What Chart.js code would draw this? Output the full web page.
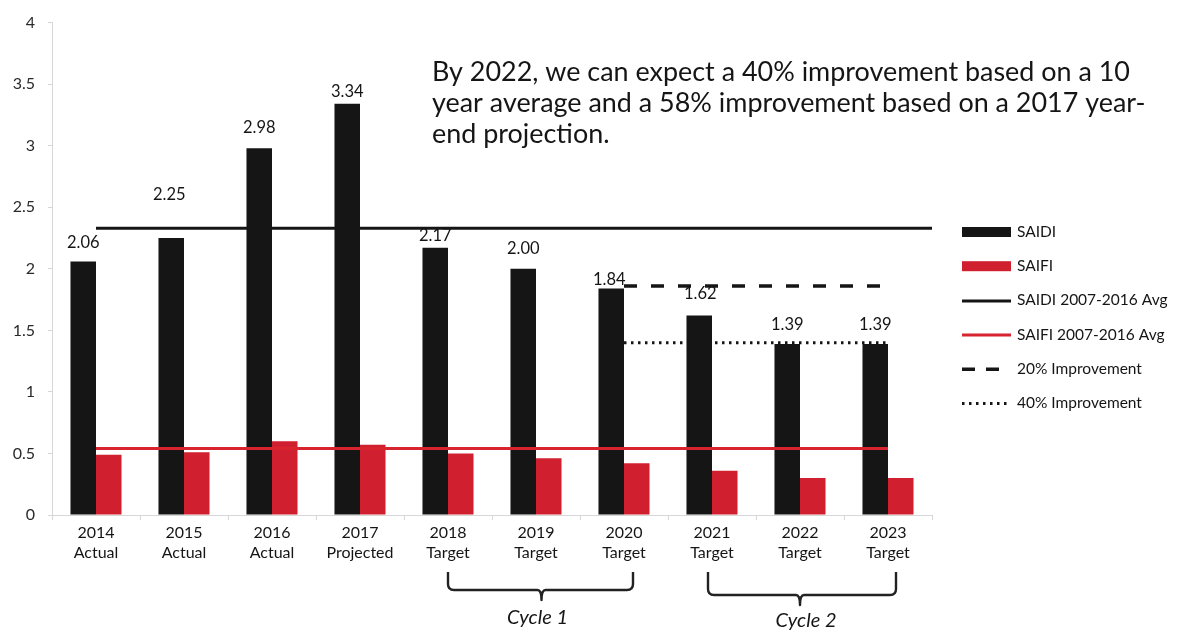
<!DOCTYPE html>
<html>
<head>
<meta charset="utf-8">
<script src="https://cdn.jsdelivr.net/npm/chart.js@4.4.1/dist/chart.umd.min.js"></script>
<style>
  html, body { margin: 0; padding: 0; background: #ffffff; }
  #wrap { width: 1188px; height: 634px; position: relative; }
</style>
</head>
<body>
<div id="wrap"><canvas id="chart" width="1188" height="634"></canvas></div>
<script>
// ---- data ----
const categories = [
  ['2014', 'Actual'], ['2015', 'Actual'], ['2016', 'Actual'], ['2017', 'Projected'],
  ['2018', 'Target'], ['2019', 'Target'], ['2020', 'Target'],
  ['2021', 'Target'], ['2022', 'Target'], ['2023', 'Target']
];
const saidi = [2.06, 2.25, 2.98, 3.34, 2.17, 2.00, 1.84, 1.62, 1.39, 1.39];
const saifi = [0.49, 0.51, 0.60, 0.57, 0.50, 0.46, 0.42, 0.36, 0.30, 0.30];
const saidiAvg = 2.33;       // SAIDI 2007-2016 average
const saifiAvg = 0.54;       // SAIFI 2007-2016 average
const improvement20 = 1.86;  // 20% below the SAIDI average
const improvement40 = 1.40;  // 40% below the SAIDI average
const improvementFrom = 6;   // improvement targets start at 2020
const yMin = 0, yMax = 4, yStep = 0.5;
const cycles = [
  { label: 'Cycle 1', from: 4, to: 6 },
  { label: 'Cycle 2', from: 7, to: 9 }
];
const noteLines = [
  'By 2022, we can expect a 40% improvement based on a 10',
  'year average and a 58% improvement based on a 2017 year-',
  'end projection.'
];

// ---- derived series ----
const saidiAvgLine = categories.map(() => saidiAvg);
const saifiAvgLine = categories.map(() => saifiAvg);
const imp20Line = categories.map((_, i) => (i >= improvementFrom ? improvement20 : null));
const imp40Line = categories.map((_, i) => (i >= improvementFrom ? improvement40 : null));

const FONT = 'Lato, "Open Sans", sans-serif';
const INK = '#151515';
const BLACK = '#151515';
const RED = '#d01f2e';
const RED_LINE = '#d8242f';
const AXIS = '#d6d6d6';

// value labels above the SAIDI bars (vertical gap above each bar top, px)
const valueLabelPlugin = {
  id: 'valueLabels',
  afterDatasetsDraw(chart, args, opts) {
    const meta = chart.getDatasetMeta(0);
    const ctx = chart.ctx;
    ctx.save();
    ctx.font = '16.5px ' + FONT;
    ctx.fillStyle = INK;
    ctx.textAlign = 'center';
    ctx.textBaseline = 'middle';
    meta.data.forEach((bar, i) => {
      const v = chart.data.datasets[0].data[i];
      ctx.fillText(v.toFixed(2), bar.x + opts.shift[i], bar.y - opts.gaps[i]);
    });
    ctx.restore();
  }
};

// carries the SAIDI average line on to the right edge of the plot
const extendLinePlugin = {
  id: 'extendLine',
  afterDatasetsDraw(chart) {
    const meta = chart.getDatasetMeta(2);
    const ds = chart.data.datasets[2];
    const last = meta.data[meta.data.length - 1];
    const ctx = chart.ctx;
    ctx.save();
    ctx.strokeStyle = ds.borderColor;
    ctx.lineWidth = ds.borderWidth;
    ctx.beginPath();
    ctx.moveTo(last.x, last.y);
    ctx.lineTo(chart.chartArea.right, last.y);
    ctx.stroke();
    ctx.restore();
  }
};

// legend drawn to the right of the plot
const sideLegendPlugin = {
  id: 'sideLegend',
  afterDraw(chart, args, opts) {
    const ctx = chart.ctx;
    const x0 = chart.chartArea.right + opts.offsetX;
    ctx.save();
    ctx.font = '15.5px ' + FONT;
    ctx.textBaseline = 'middle';
    ctx.textAlign = 'left';
    chart.data.datasets.forEach((ds, i) => {
      const y = opts.top + i * opts.spacing;
      if (ds.type === 'bar') {
        ctx.fillStyle = ds.backgroundColor;
        ctx.fillRect(x0, y - 5, opts.swatch, 10);
      } else {
        ctx.strokeStyle = ds.borderColor;
        ctx.lineWidth = ds.borderWidth;
        ctx.setLineDash(ds.legendDash || []);
        ctx.beginPath();
        ctx.moveTo(x0, y + 0.5);
        ctx.lineTo(x0 + (ds.legendLength || opts.swatch), y + 0.5);
        ctx.stroke();
        ctx.setLineDash([]);
      }
      ctx.fillStyle = INK;
      ctx.fillText(ds.label, x0 + opts.swatch + 6, y);
    });
    ctx.restore();
  }
};

// brackets and cycle names under the category labels
const cyclePlugin = {
  id: 'cycles',
  afterDraw(chart, args, opts) {
    const ctx = chart.ctx;
    const xs = chart.scales.x;
    ctx.save();
    ctx.strokeStyle = '#222';
    ctx.lineWidth = 2.4;
    ctx.lineJoin = 'round';
    opts.items.forEach((c, k) => {
      const s = opts.shapes[k];
      const xl = xs.getPixelForValue(c.from) + s.dl;
      const xr = xs.getPixelForValue(c.to) + s.dr;
      const xm = (xl + xr) / 2 + s.dm;
      const top = s.top, hy = s.hy, dip = s.dip, r = 6;
      ctx.beginPath();
      ctx.moveTo(xl, top);
      ctx.lineTo(xl, hy - r);
      ctx.quadraticCurveTo(xl, hy, xl + r, hy);
      ctx.lineTo(xm - 4, hy);
      ctx.quadraticCurveTo(xm, hy, xm, hy + dip);
      ctx.quadraticCurveTo(xm, hy, xm + 4, hy);
      ctx.lineTo(xr - r, hy);
      ctx.quadraticCurveTo(xr, hy, xr, hy - r);
      ctx.lineTo(xr, top);
      ctx.stroke();
      ctx.fillStyle = INK;
      ctx.font = 'italic 20px ' + FONT;
      ctx.textAlign = 'center';
      ctx.textBaseline = 'middle';
      ctx.fillText(c.label, xm + s.tx, s.ty);
    });
    ctx.restore();
  }
};

// note text in the upper right of the plot
const notePlugin = {
  id: 'note',
  afterDraw(chart, args, opts) {
    const ctx = chart.ctx;
    ctx.save();
    let size = 24;
    ctx.font = size + 'px ' + FONT;
    const w = ctx.measureText(noteLines[0]).width;
    size = size * opts.width / w;
    ctx.font = size.toFixed(2) + 'px ' + FONT;
    ctx.fillStyle = INK;
    ctx.textAlign = 'left';
    ctx.textBaseline = 'middle';
    noteLines.forEach((t, i) => ctx.fillText(t, opts.x, opts.y + i * opts.lineGap));
    ctx.restore();
  }
};

new Chart(document.getElementById('chart'), {
  data: {
    labels: categories,
    datasets: [
      { type: 'bar', label: 'SAIDI', data: saidi, backgroundColor: BLACK, order: 2,
        categoryPercentage: 0.58, barPercentage: 1.0 },
      { type: 'bar', label: 'SAIFI', data: saifi, backgroundColor: RED, order: 2,
        categoryPercentage: 0.58, barPercentage: 1.0 },
      { type: 'line', label: 'SAIDI 2007-2016 Avg', data: saidiAvgLine, borderColor: BLACK,
        borderWidth: 3, pointRadius: 0, fill: false, order: 1 },
      { type: 'line', label: 'SAIFI 2007-2016 Avg', data: saifiAvgLine, borderColor: RED_LINE,
        borderWidth: 3, pointRadius: 0, fill: false, order: 1 },
      { type: 'line', label: '20% Improvement', data: imp20Line, borderColor: BLACK,
        borderWidth: 3.5, borderDash: [13, 14], legendDash: [13, 11], legendLength: 38,
        pointRadius: 0, fill: false, order: 1 },
      { type: 'line', label: '40% Improvement', data: imp40Line, borderColor: BLACK,
        borderWidth: 3, borderDash: [2.5, 4.5], legendDash: [2.5, 4.5],
        pointRadius: 0, fill: false, order: 1 }
    ]
  },
  options: {
    responsive: false,
    animation: false,
    layout: { padding: { left: 0, right: 256, top: 17, bottom: 0 } },
    plugins: {
      legend: { display: false },
      tooltip: { enabled: false },
      valueLabels: {
        gaps: [19, 43, 20, 12, 12, 20, 9, 22, 19, 19],
        shift: [0, -2, 0, 0, 0, 0, -2, 1, 0, 0]
      },
      sideLegend: { offsetX: 30, top: 232, spacing: 34.2, swatch: 49 },
      cycles: {
        items: cycles,
        shapes: [
          { dl: 0, dr: 9, dm: 1, top: 572, hy: 590, dip: 10, tx: -4, ty: 618 },
          { dl: -4, dr: 8, dm: -2, top: 572, hy: 595, dip: 10, tx: 6, ty: 621 }
        ]
      },
      note: { x: 432, y: 72, lineGap: 31, width: 698 }
    },
    scales: {
      x: {
        offset: true,
        grid: { display: true, offset: true, drawOnChartArea: false, drawTicks: true,
                tickLength: 5, color: AXIS },
        border: { display: true, color: AXIS, width: 1 },
        ticks: { color: INK, font: { family: FONT, size: 16, lineHeight: 1.25 },
                 padding: 3, maxRotation: 0, autoSkip: false },
        afterFit(scale) { scale.height = 119; }
      },
      y: {
        min: yMin, max: yMax,
        grid: { display: true, drawOnChartArea: false, drawTicks: true, tickLength: 4, color: AXIS },
        border: { display: true, color: AXIS, width: 1 },
        ticks: { stepSize: yStep, color: '#2a2a2a', font: { family: FONT, size: 16 }, padding: 13,
                 callback: (v) => String(+Number(v).toFixed(1)) },
        afterFit(scale) { scale.width = 52; }
      }
    }
  },
  plugins: [valueLabelPlugin, extendLinePlugin, sideLegendPlugin, cyclePlugin, notePlugin]
});
</script>
</body>
</html>
